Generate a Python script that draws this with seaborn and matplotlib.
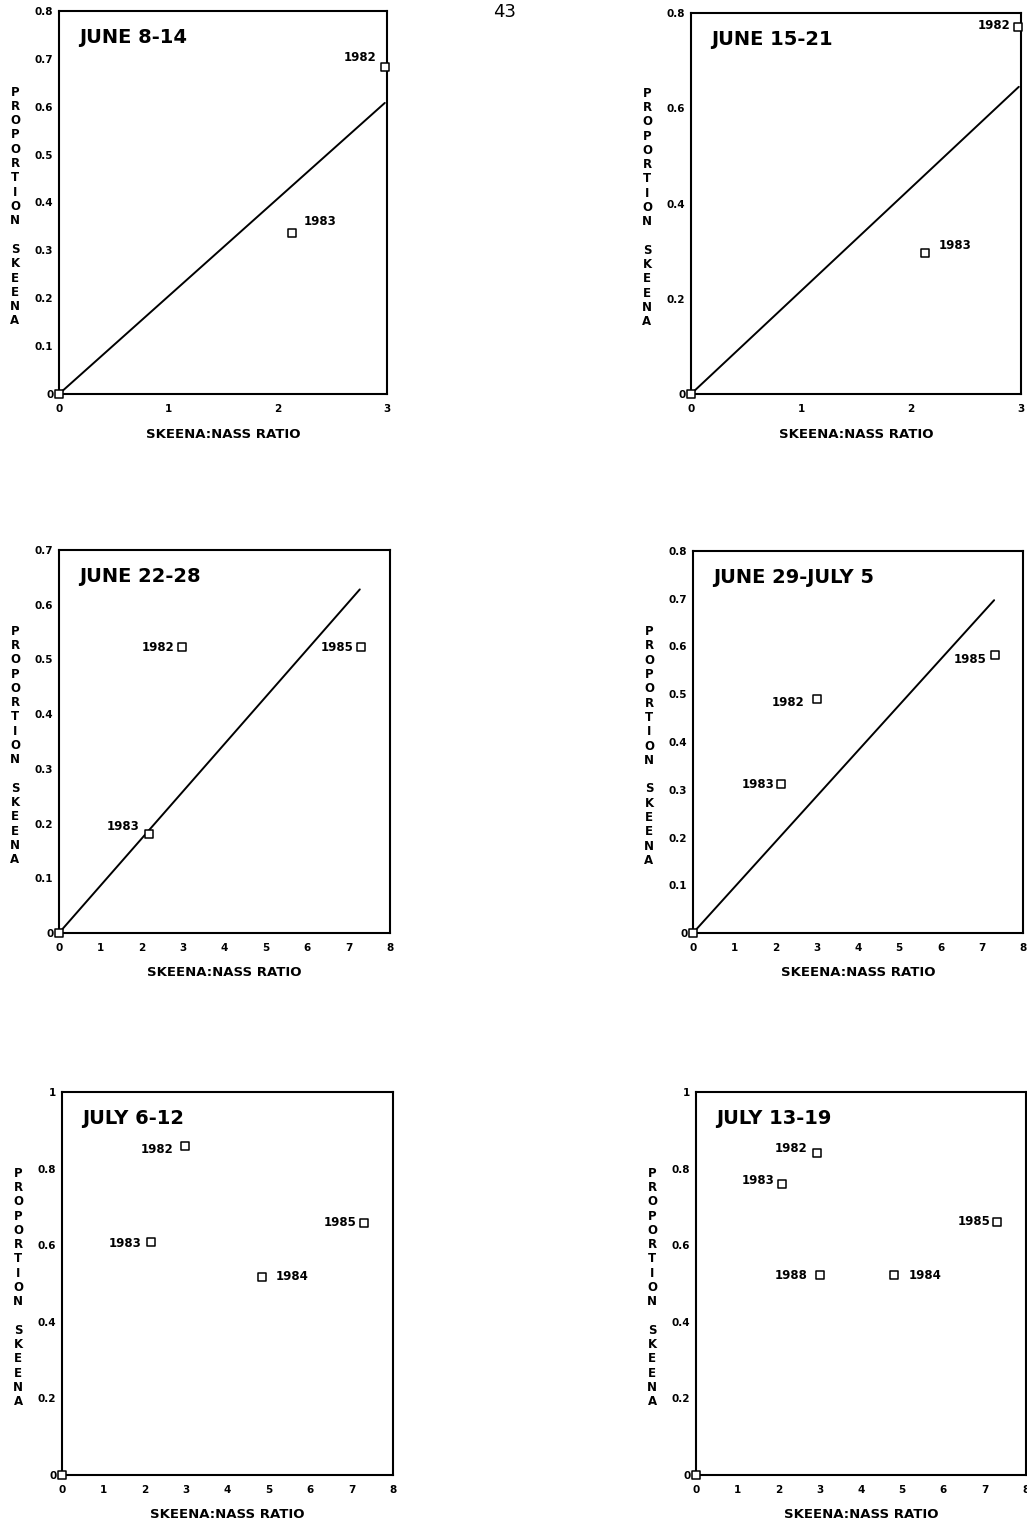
import numpy as np
import pandas as pd
import matplotlib
matplotlib.use("Agg")
import matplotlib.pyplot as plt
import seaborn as sns

sns.set_style("white")
plt.rcParams['font.family'] = ['DejaVu Sans']
plt.rcParams['text.color'] = 'black'
plt.rcParams['axes.labelcolor'] = 'black'
plt.rcParams['xtick.color'] = 'black'
plt.rcParams['ytick.color'] = 'black'

# ==========================================
# DATA
# ==========================================
titles = ["JUNE 8-14", "JUNE 15-21", "JUNE 22-28",
          "JUNE 29-JULY 5", "JULY 6-12", "JULY 13-19"]

# points: first point of each panel is the unlabelled origin
years_1 = ["", "1982", "1983"]
ratio_1 = [0.0, 2.98, 2.13]
prop_1 = [0.0, 0.683, 0.337]

years_2 = ["", "1982", "1983"]
ratio_2 = [0.0, 2.97, 2.13]
prop_2 = [0.0, 0.771, 0.296]

years_3 = ["", "1982", "1985", "1983"]
ratio_3 = [0.0, 2.98, 7.30, 2.17]
prop_3 = [0.0, 0.522, 0.522, 0.181]

years_4 = ["", "1985", "1982", "1983"]
ratio_4 = [0.0, 7.32, 3.00, 2.14]
prop_4 = [0.0, 0.582, 0.490, 0.311]

years_5 = ["", "1982", "1983", "1984", "1985"]
ratio_5 = [0.0, 2.98, 2.14, 4.83, 7.30]
prop_5 = [0.0, 0.859, 0.609, 0.517, 0.658]

years_6 = ["", "1982", "1983", "1988", "1984", "1985"]
ratio_6 = [0.0, 2.94, 2.09, 3.01, 4.80, 7.30]
prop_6 = [0.0, 0.841, 0.761, 0.521, 0.521, 0.661]

# fitted lines through the origin (end points read from the page)
line_x = [[0.0, 2.98], [0.0, 2.98], [0.0, 7.27], [0.0, 7.30], None, None]
line_y = [[0.0, 0.608], [0.0, 0.645], [0.0, 0.628], [0.0, 0.697], None, None]

x_max = [3, 3, 8, 8, 8, 8]
y_max = [0.8, 0.8, 0.7, 0.8, 1.0, 1.0]
y_step = [0.1, 0.2, 0.1, 0.1, 0.2, 0.2]

# ==========================================
# LAYOUT / STYLE
# ==========================================
W, H = 1027, 1526
# (left, top, right, bottom) in pixels
rects = [(59, 11, 387, 394), (691, 13, 1021, 394),
         (59, 550, 390, 933), (693, 551, 1023, 933),
         (62, 1092, 393, 1475), (696, 1092, 1026, 1475)]

# label offsets in pixels (dx, dy) and alignment
offsets = [
    [None, (-8, 10, 'right'), (12, 11, 'left')],
    [None, (-7, 1, 'right'), (13, 8, 'left')],
    [None, (-8, 0, 'right'), (-7, 0, 'right'), (-9, 7, 'right')],
    [None, (-8, -4, 'right'), (-12, -3, 'right'), (-7, 0, 'right')],
    [None, (-12, -3, 'right'), (-9, -2, 'right'), (14, 0, 'left'), (-7, 0, 'right')],
    [None, (-10, 4, 'right'), (-8, 3, 'right'), (-13, 0, 'right'), (15, 0, 'left'), (-7, 0, 'right')],
]

panels = [(years_1, ratio_1, prop_1), (years_2, ratio_2, prop_2),
          (years_3, ratio_3, prop_3), (years_4, ratio_4, prop_4),
          (years_5, ratio_5, prop_5), (years_6, ratio_6, prop_6)]


def fmt_y(v):
    if abs(v) < 1e-9:
        return "0"
    if abs(v - 1) < 1e-9:
        return "1"
    return f"{v:.1f}"


fig = plt.figure(figsize=(W / 100, H / 100), dpi=100)
fig.text(505 / W, 1 - 3 / H, "43", ha='center', va='top', fontsize=13)

for i, (yrs, xs, ys) in enumerate(panels):
    l, t, r, b = rects[i]
    ax = fig.add_axes([l / W, 1 - b / H, (r - l) / W, (b - t) / H])
    df = pd.DataFrame({'ratio': xs, 'prop': ys, 'year': yrs})

    if line_x[i] is not None:
        sns.lineplot(x=line_x[i], y=line_y[i], ax=ax, color='black',
                     linewidth=1.4, estimator=None)

    sns.scatterplot(data=df, x='ratio', y='prop', ax=ax, marker='s', s=32,
                    color='white', edgecolor='black', linewidth=1.1,
                    clip_on=False, zorder=5, legend=False)

    for j, yr in enumerate(yrs):
        if not yr:
            continue
        dx, dy, ha = offsets[i][j]
        ax.annotate(yr, (xs[j], ys[j]), xytext=(dx, dy), textcoords='offset pixels',
                    ha=ha, va='center', fontsize=8.5, fontweight='bold')

    ax.set_xlim(0, x_max[i])
    ax.set_ylim(0, y_max[i])
    ax.set_xticks(np.arange(0, x_max[i] + 0.5, 1))
    yt = np.arange(0, y_max[i] + y_step[i] / 2, y_step[i])
    ax.set_yticks(yt)
    ax.set_yticklabels([fmt_y(v) for v in yt])
    ax.tick_params(axis='both', direction='in', length=4, width=1.2,
                   labelsize=7.5, colors='black')
    ax.tick_params(axis='x', pad=7)
    ax.tick_params(axis='y', pad=4)
    for lab in ax.get_xticklabels() + ax.get_yticklabels():
        lab.set_fontweight('bold')
    for sp in ax.spines.values():
        sp.set_visible(True)
        sp.set_color('black')
        sp.set_linewidth(1.5)
    ax.set_xlabel("")
    ax.set_ylabel("")

    ax.text(0.06, 0.955, titles[i], transform=ax.transAxes, ha='left', va='top',
            fontsize=14, fontweight='bold')

    # stacked vertical y label
    fig.text((l - 44) / W, 1 - ((t + b) / 2 + 4) / H,
             "\n".join(list("PROPORTION SKEENA")), ha='center', va='center',
             fontsize=8.5, fontweight='bold', linespacing=1.13)
    fig.text((l + r) / 2 / W, 1 - (b + 40) / H, "SKEENA:NASS RATIO",
             ha='center', va='center', fontsize=9.5, fontweight='bold')

fig.savefig("out.png", dpi=100, facecolor='white')
